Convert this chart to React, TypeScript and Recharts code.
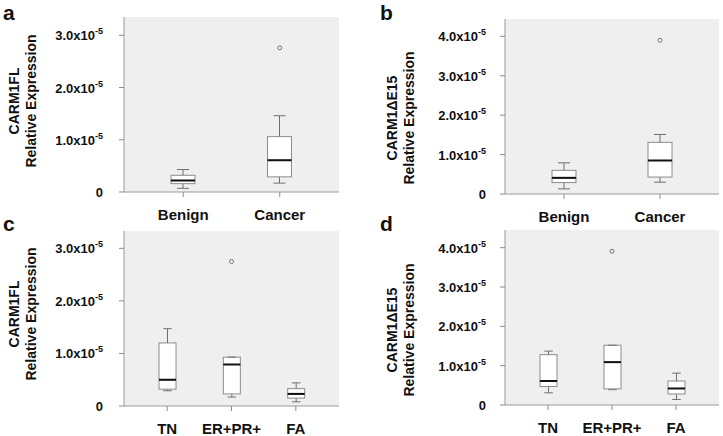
import { Bar, CartesianGrid, ComposedChart, Scatter, XAxis, YAxis } from "recharts";

// all values in units of 1e-5
const groupsAB = ["Benign", "Cancer"];
const groupsCD = ["TN", "ER+PR+", "FA"];

const minA = [0.07, 0.17];
const q1A = [0.16, 0.29];
const medA = [0.22, 0.61];
const q3A = [0.32, 1.06];
const maxA = [0.43, 1.46];
const outA = [null, 2.76];

const minB = [0.13, 0.3];
const q1B = [0.29, 0.43];
const medB = [0.41, 0.85];
const q3B = [0.6, 1.31];
const maxB = [0.79, 1.51];
const outB = [null, 3.9];

const minC = [0.29, 0.17, 0.08];
const q1C = [0.32, 0.23, 0.15];
const medC = [0.5, 0.79, 0.23];
const q3C = [1.2, 0.93, 0.33];
const maxC = [1.47, 0.93, 0.44];
const outC = [null, 2.75, null];

const minD = [0.31, 0.39, 0.14];
const q1D = [0.47, 0.41, 0.28];
const medD = [0.61, 1.09, 0.42];
const q3D = [1.28, 1.52, 0.61];
const maxD = [1.37, 1.52, 0.81];
const outD = [null, 3.91, null];

const ticks3 = [0, 1, 2, 3];
const ticks4 = [0, 1, 2, 3, 4];

const FONT = '"Liberation Sans", Arial, sans-serif';
const BOX = "#8c8c8c";
const WHISK = "#6f6f6f";
const FRAME = "#9a9a9a";

const buildRows = (groups: string[], min: number[], q1: number[], med: number[], q3: number[], max: number[], out: (number | null)[]) =>
  groups.map((g, i) => ({
    group: g,
    base: min[i],
    lowW: q1[i] - min[i],
    lowBox: med[i] - q1[i],
    highBox: q3[i] - med[i],
    highW: max[i] - q3[i],
    outlier: out[i],
  }));

const LowWhisker = (p: any) => {
  const cx = p.x + p.width / 2;
  const bottom = p.y + p.height;
  const cap = p.width * 0.25;
  return (
    <g>
      <line x1={cx} x2={cx} y1={p.y} y2={bottom} stroke={WHISK} />
      <line x1={cx - cap} x2={cx + cap} y1={bottom} y2={bottom} stroke={WHISK} />
    </g>
  );
};

const HighWhisker = (p: any) => {
  const cx = p.x + p.width / 2;
  const cap = p.width * 0.25;
  return (
    <g>
      <line x1={cx} x2={cx} y1={p.y} y2={p.y + p.height} stroke={WHISK} />
      <line x1={cx - cap} x2={cx + cap} y1={p.y} y2={p.y} stroke={WHISK} />
    </g>
  );
};

const LowBox = (p: any) => (
  <rect x={p.x} y={p.y} width={p.width} height={p.height} fill="#fff" stroke={BOX} />
);

// median drawn at bottom of upper half so it sits on top of both rects
const HighBox = (p: any) => (
  <g>
    <rect x={p.x} y={p.y} width={p.width} height={p.height} fill="#fff" stroke={BOX} />
    <line x1={p.x} x2={p.x + p.width} y1={p.y + p.height} y2={p.y + p.height} stroke="#111" strokeWidth={2} />
  </g>
);

const Outlier = (p: any) =>
  p.payload.outlier == null ? <g /> : <circle cx={p.cx} cy={p.cy} r={2} fill="none" stroke="#777" />;

const YTick = (p: any) => {
  const v = p.payload.value;
  return (
    <text x={p.x} y={p.y} dy={5} textAnchor="end" fontFamily={FONT} fontSize={13} fontWeight="bold" fill="#111">
      {v === 0 ? (
        "0"
      ) : (
        <>
          {v.toFixed(1)}x10
          <tspan dy={-6} fontSize={9}>
            -5
          </tspan>
        </>
      )}
    </text>
  );
};

const XTick = (p: any) => (
  <text x={p.x} y={p.y} dy={21} textAnchor="middle" fontFamily={FONT} fontSize={15} fontWeight="bold" fill="#111">
    {p.payload.value}
  </text>
);

interface PanelProps {
  rows: any[];
  domain: number[];
  ticks: number[];
  left: number;
  top: number;
  width: number;
  height: number;
  yWidth: number;
  xHeight: number;
  marginTop: number;
  marginRight: number;
  tickGap: number;
  barSize: number;
}

const Panel = (props: PanelProps) => (
  <div style={{ position: "absolute", left: props.left, top: props.top }}>
    <ComposedChart
      width={props.width}
      height={props.height}
      data={props.rows}
      margin={{ top: props.marginTop, right: props.marginRight, left: 0, bottom: 0 }}
    >
      <CartesianGrid fill="#efefef" horizontal={false} vertical={false} />
      <XAxis
        dataKey="group"
        height={props.xHeight}
        padding={{ left: 11, right: 11 }}
        tickSize={5}
        tickLine={{ stroke: BOX }}
        axisLine={{ stroke: FRAME }}
        tick={<XTick />}
        interval={0}
      />
      <XAxis xAxisId="top" dataKey="group" orientation="top" height={0} tick={false} tickLine={false} axisLine={{ stroke: FRAME }} />
      <YAxis
        type="number"
        domain={props.domain}
        ticks={props.ticks}
        interval={0}
        width={props.yWidth}
        tickSize={5}
        tickMargin={props.tickGap}
        tickLine={{ stroke: BOX }}
        axisLine={{ stroke: FRAME }}
        tick={<YTick />}
        allowDataOverflow
      />
      <YAxis yAxisId="r" orientation="right" type="number" domain={props.domain} width={0} tick={false} tickLine={false} axisLine={{ stroke: FRAME }} />
      <Bar dataKey="base" stackId="s" fill="none" barSize={props.barSize} isAnimationActive={false} />
      <Bar dataKey="lowW" stackId="s" shape={<LowWhisker />} barSize={props.barSize} isAnimationActive={false} />
      <Bar dataKey="lowBox" stackId="s" shape={<LowBox />} barSize={props.barSize} isAnimationActive={false} />
      <Bar dataKey="highBox" stackId="s" shape={<HighBox />} barSize={props.barSize} isAnimationActive={false} />
      <Bar dataKey="highW" stackId="s" shape={<HighWhisker />} barSize={props.barSize} isAnimationActive={false} />
      <Scatter dataKey="outlier" shape={<Outlier />} isAnimationActive={false} />
    </ComposedChart>
  </div>
);

const titleStyle = { fontFamily: FONT, fontSize: 14, fontWeight: "bold" as const, fill: "#111" };
const letterStyle = { fontFamily: FONT, fontSize: 21, fontWeight: "bold" as const, fill: "#111" };

const Title = ({ x, y, text }: { x: number; y: number; text: string }) => (
  <text transform={`translate(${x},${y}) rotate(-90)`} textAnchor="middle" dominantBaseline="central" {...titleStyle}>
    {text}
  </text>
);

export default function App() {
  return (
    <div style={{ position: "absolute", left: 0, top: 0, width: 723, height: 436, background: "#fff" }}>
      <Panel rows={buildRows(groupsAB, minA, q1A, medA, q3A, maxA, outA)} domain={[0, 3.35]} ticks={ticks3}
        left={0} top={0} width={362} height={232} yWidth={124} xHeight={40} marginTop={17} marginRight={23} tickGap={16} barSize={24} />
      <Panel rows={buildRows(groupsAB, minB, q1B, medB, q3B, maxB, outB)} domain={[0, 4.44]} ticks={ticks4}
        left={362} top={0} width={361} height={232} yWidth={143} xHeight={38} marginTop={19} marginRight={4} tickGap={14} barSize={24} />
      <Panel rows={buildRows(groupsCD, minC, q1C, medC, q3C, maxC, outC)} domain={[0, 3.33]} ticks={ticks3}
        left={0} top={218} width={362} height={218} yWidth={124} xHeight={30} marginTop={13} marginRight={23} tickGap={16} barSize={17} />
      <Panel rows={buildRows(groupsCD, minD, q1D, medD, q3D, maxD, outD)} domain={[0, 4.45]} ticks={ticks4}
        left={362} top={218} width={361} height={218} yWidth={143} xHeight={31} marginTop={12} marginRight={4} tickGap={14} barSize={17} />
      <svg width={723} height={436} style={{ position: "absolute", left: 0, top: 0, pointerEvents: "none" }}>
        <text x={3} y={20} {...letterStyle}>a</text>
        <text x={380} y={20} {...letterStyle}>b</text>
        <text x={3} y={231} {...letterStyle}>c</text>
        <text x={380} y={231} {...letterStyle}>d</text>
        <Title x={14} y={101} text="CARM1FL" />
        <Title x={31} y={101} text="Relative Expression" />
        <Title x={392} y={118} text="CARM1ΔE15" />
        <Title x={409} y={118} text="Relative Expression" />
        <Title x={14} y={314} text="CARM1FL" />
        <Title x={31} y={314} text="Relative Expression" />
        <Title x={392} y={330} text="CARM1ΔE15" />
        <Title x={409} y={330} text="Relative Expression" />
      </svg>
    </div>
  );
}
